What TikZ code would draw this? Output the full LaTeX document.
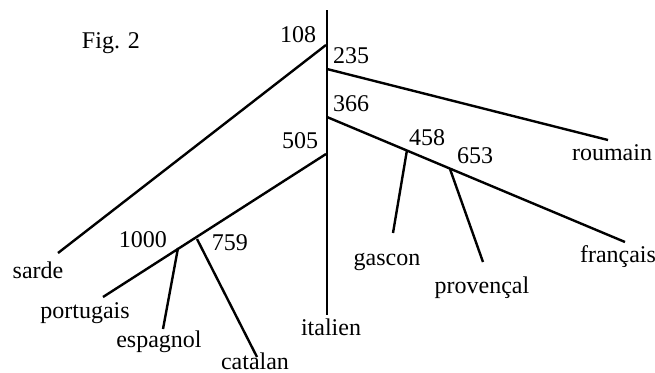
\documentclass[tikz,border=0pt]{standalone}
\usepackage{fontspec}
\setmainfont{Liberation Serif}
\usepackage{tikz}

\begin{document}
\begin{tikzpicture}[
  x=0.5pt, y=-0.5pt,
  every node/.style={inner sep=0pt, font=\fontsize{12}{14}\selectfont},
  branch/.style={line width=1.2pt},
  lang/.style={anchor=base},
  num/.style={anchor=base}
]
\useasboundingbox (0,0) rectangle (655,372);
% junctions
\coordinate (top) at (327,10);
\coordinate (n108) at (326,45);
\coordinate (n235) at (327,69);
\coordinate (n366) at (327,117);
\coordinate (n505) at (326,154);
\coordinate (bot) at (327,315);
\coordinate (n458) at (407,150);
\coordinate (n653) at (450,169);
\coordinate (n759) at (197,239);
\coordinate (n1000) at (178,248);
% branch ends
\coordinate (sardeEnd) at (58,253);
\coordinate (roumainEnd) at (608,140);
\coordinate (francaisEnd) at (625,242);
\coordinate (portugaisEnd) at (103,297);
\coordinate (espagnolEnd) at (163,329);
\coordinate (catalanEnd) at (257,357);
\coordinate (gasconEnd) at (393,233);
\coordinate (provencalEnd) at (483,262);

\draw[branch] (top) -- (bot);
\draw[branch] (n108) -- (sardeEnd);
\draw[branch] (n235) -- (roumainEnd);
\draw[branch] (n366) -- (francaisEnd);
\draw[branch] (n505) -- (portugaisEnd);
\draw[branch] (n458) -- (gasconEnd);
\draw[branch] (n653) -- (provencalEnd);
\draw[branch] (n759) -- (catalanEnd);
\draw[branch] (n1000) -- (espagnolEnd);

% dates
\node[num] (l108) at (298,42) {108};
\node[num] (l235) at (351,63) {235};
\node[num] (l366) at (351,111) {366};
\node[num] (l505) at (300,148) {505};
\node[num] (l458) at (427,145) {458};
\node[num] (l653) at (475,163) {653};
\node[num] (l1000) at (143,247) {1000};
\node[num] (l759) at (230,250) {759};

% languages
\node[lang] (sarde) at (38,278) {sarde};
\node[lang] (portugais) at (85,318) {portugais};
\node[lang] (espagnol) at (159,347) {espagnol};
\node[lang] (catalan) at (255,369) {catalan};
\node[lang] (italien) at (331,335) {italien};
\node[lang] (gascon) at (387,265) {gascon};
\node[lang] (provencal) at (482,293) {provençal};
\node[lang] (francais) at (618,262) {français};
\node[lang] (roumain) at (612,160) {roumain};

\node[anchor=base] (fig) at (111,48) {Fig. 2};
\end{tikzpicture}
\end{document}
